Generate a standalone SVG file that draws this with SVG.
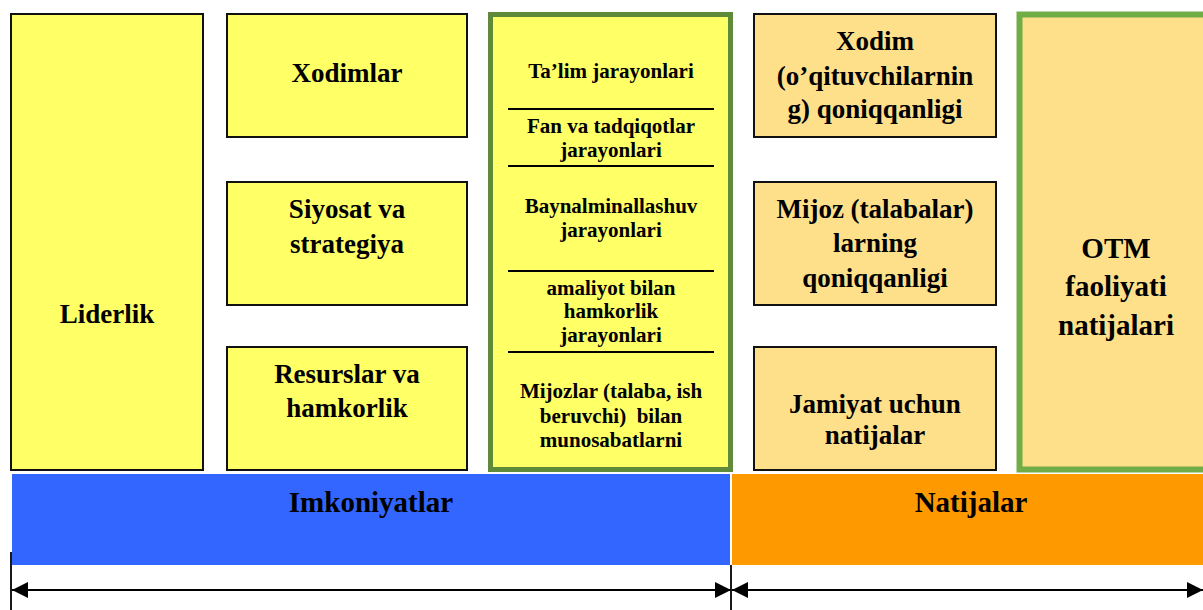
<svg xmlns="http://www.w3.org/2000/svg" width="1203" height="610" viewBox="0 0 1203 610" font-family="'Liberation Serif', 'Times New Roman', Tinos, 'DejaVu Serif', serif">
<defs>
<style>
.y{fill:#ffff66;stroke:#111;stroke-width:2}
.p{fill:#fee08b;stroke:#111;stroke-width:2}
text{font-family:'Liberation Serif', 'Times New Roman', Tinos, 'DejaVu Serif', serif}
.t{font-weight:bold;text-anchor:middle;fill:#000}
.b{font-size:27px}
.s{font-size:21px}
.l{font-size:29px}
.sep{stroke:#000;stroke-width:1.8}
.c{stroke:#000;stroke-width:1.8;fill:none}
</style>
<marker id="ah" viewBox="0 0 16 16" refX="16" refY="8" markerWidth="16" markerHeight="16" markerUnits="userSpaceOnUse" orient="auto-start-reverse">
<path d="M0,0 L16,8 L0,16 Z" fill="#000"/>
</marker>
</defs>
<rect width="1203" height="610" fill="#fff"/>

<g id="liderlik">
<rect class="y" x="11" y="14" width="192" height="456"/>
<text class="t b" x="107" y="323">Liderlik</text>
</g>
<g id="xodimlar">
<rect class="y" x="227" y="14" width="240" height="123"/>
<text class="t b" x="347" y="82">Xodimlar</text>
</g>
<g id="siyosat">
<rect class="y" x="227" y="182" width="240" height="123"/>
<text class="t b" x="347" y="218">Siyosat va</text>
<text class="t b" x="347" y="253">strategiya</text>
</g>
<g id="resurslar">
<rect class="y" x="227" y="347" width="240" height="123"/>
<text class="t b" x="347" y="383">Resurslar va</text>
<text class="t b" x="347" y="417">hamkorlik</text>
</g>

<g id="jarayonlar">
<rect x="490.5" y="14.5" width="240" height="455" fill="#ffff66" stroke="#5e8a3a" stroke-width="5"/>
<line class="sep" x1="508" y1="109" x2="714" y2="109"/>
<line class="sep" x1="508" y1="166" x2="714" y2="166"/>
<line class="sep" x1="508" y1="271" x2="714" y2="271"/>
<line class="sep" x1="508" y1="352" x2="714" y2="352"/>
<text class="t s" x="611" y="78">Ta’lim jarayonlari</text>
<text class="t s" x="611" y="133">Fan va tadqiqotlar</text>
<text class="t s" x="611" y="157">jarayonlari</text>
<text class="t s" x="611" y="213">Baynalminallashuv</text>
<text class="t s" x="611" y="237">jarayonlari</text>
<text class="t s" x="611" y="295">amaliyot bilan</text>
<text class="t s" x="611" y="318">hamkorlik</text>
<text class="t s" x="611" y="342">jarayonlari</text>
<text class="t s" x="611" y="398">Mijozlar (talaba, ish</text>
<text class="t s" x="611" y="423" xml:space="preserve">beruvchi)  bilan</text>
<text class="t s" x="611" y="447">munosabatlarni</text>
</g>

<g id="xodim-qoniqqanligi">
<rect class="p" x="754" y="14" width="242" height="123"/>
<text class="t b" x="875" y="50">Xodim</text>
<text class="t b" x="875" y="85">(o’qituvchilarnin</text>
<text class="t b" x="875" y="118">g) qoniqqanligi</text>
</g>
<g id="mijoz-qoniqqanligi">
<rect class="p" x="754" y="182" width="242" height="123"/>
<text class="t b" x="875" y="218">Mijoz (talabalar)</text>
<text class="t b" x="875" y="252">larning</text>
<text class="t b" x="875" y="287">qoniqqanligi</text>
</g>
<g id="jamiyat">
<rect class="p" x="754" y="347" width="242" height="123"/>
<text class="t b" x="875" y="413">Jamiyat uchun</text>
<text class="t b" x="875" y="444">natijalar</text>
</g>
<g id="otm">
<rect x="1019.5" y="14.5" width="200" height="455" fill="#fee08b" stroke="#70ad47" stroke-width="6"/>
<text class="t l" x="1116" y="258">OTM</text>
<text class="t l" x="1116" y="296">faoliyati</text>
<text class="t l" x="1116" y="335">natijalari</text>
</g>

<g id="imkoniyatlar">
<rect x="12" y="474" width="718" height="91" fill="#3366ff"/>
<text class="t l" x="371" y="512">Imkoniyatlar</text>
</g>
<g id="natijalar">
<rect x="732" y="474" width="471" height="91" fill="#ff9900"/>
<text class="t l" x="971" y="512">Natijalar</text>
</g>

<g id="connectors">
<line class="c" x1="11" y1="552" x2="11" y2="610"/>
<line class="c" x1="731" y1="565" x2="731" y2="610"/>
<line class="c" x1="12" y1="590" x2="731" y2="590" marker-start="url(#ah)" marker-end="url(#ah)"/>
<line class="c" x1="732" y1="590" x2="1203" y2="590" marker-start="url(#ah)" marker-end="url(#ah)"/>
</g>
</svg>
